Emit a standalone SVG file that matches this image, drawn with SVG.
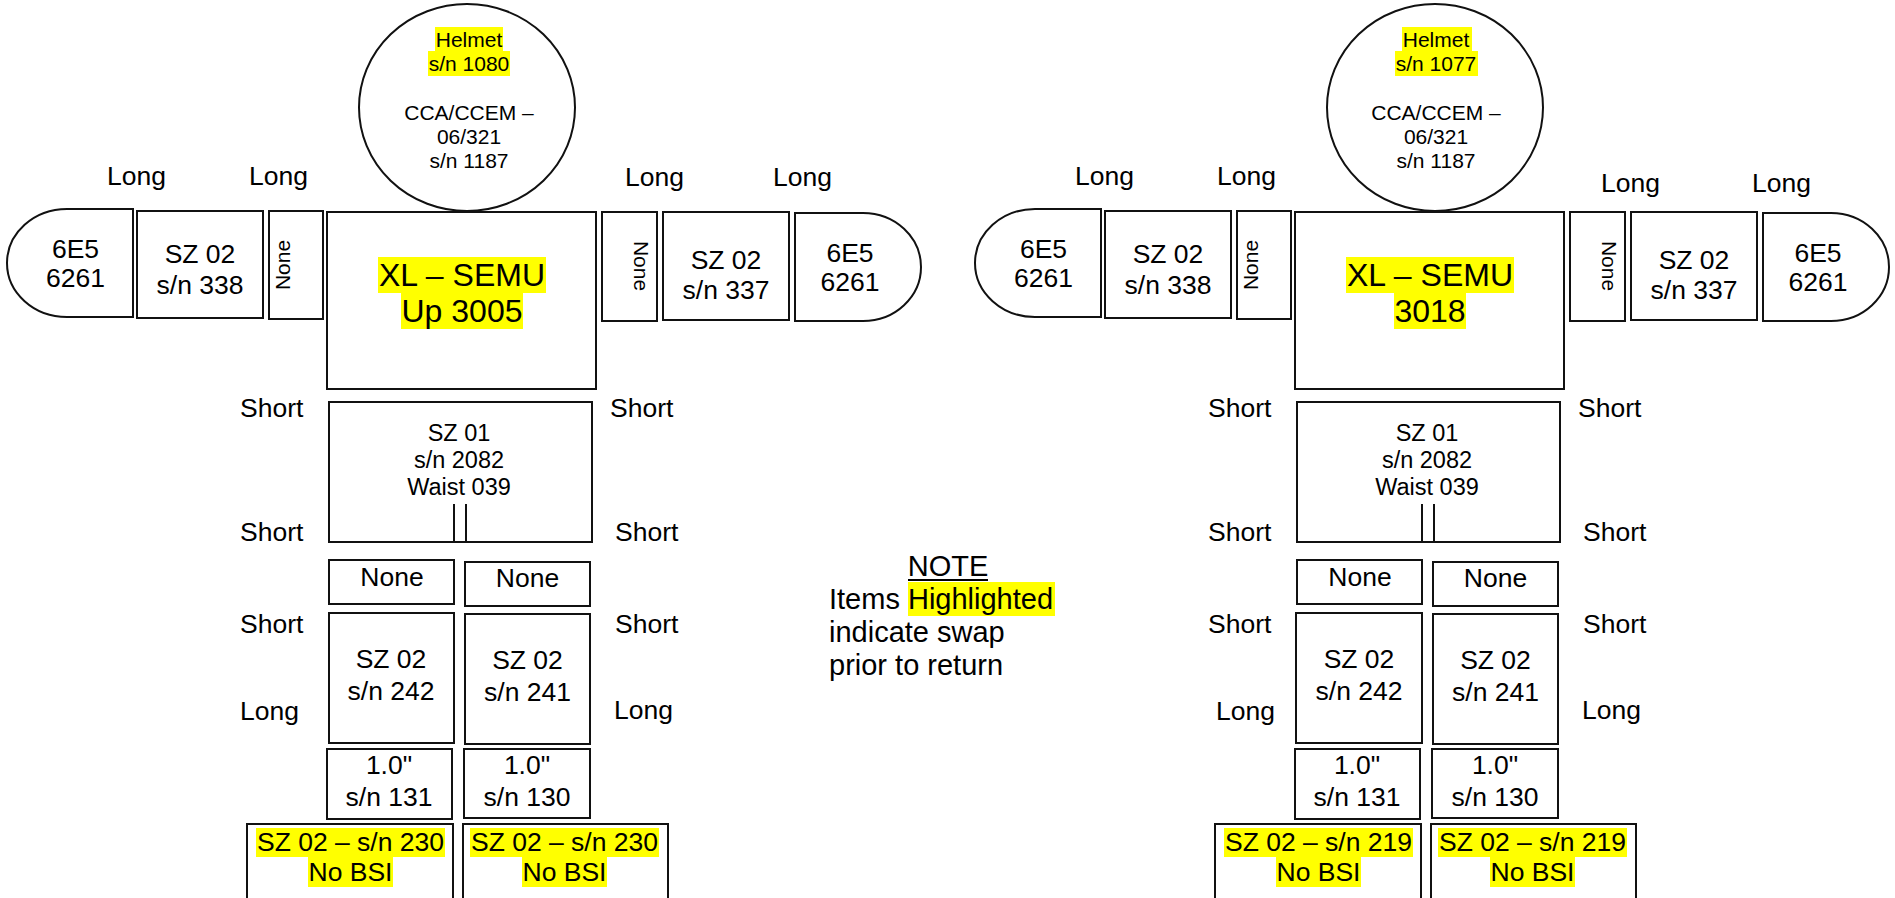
<svg xmlns="http://www.w3.org/2000/svg" width="1895" height="898" viewBox="0 0 1895 898">
<style>
text{font-family:"Liberation Sans",Arial,sans-serif;fill:#000}
.s{fill:#fff;stroke:#111;stroke-width:2}
.hl{fill:#ffff00}
.t21{font-size:21px;text-anchor:middle}
.t23{font-size:23.5px;text-anchor:middle}
.t26{font-size:26.5px;text-anchor:middle}
.t32{font-size:32px;text-anchor:middle}
.lb{font-size:26.5px}
.nt{font-size:29px}
</style>
<rect width="1895" height="898" fill="#fff"/>
<g id="connectors"/>

<!-- LEFT FIGURE -->
<g id="figure-left">
<g id="L-helmet">
<ellipse class="s" cx="467" cy="107.5" rx="108" ry="103.5"/>
<rect class="hl" x="435" y="27" width="68" height="24"/>
<rect class="hl" x="428" y="51" width="82" height="25"/>
<text class="t21" x="469" y="47">Helmet</text>
<text class="t21" x="469" y="71">s/n 1080</text>
<text class="t21" x="469" y="120">CCA/CCEM –</text>
<text class="t21" x="469" y="144">06/321</text>
<text class="t21" x="469" y="168">s/n 1187</text>
</g>
<g id="L-glove-left">
<path class="s" d="M133,209 H67 A60,54 0 0 0 67,317 H133 Z"/>
<text class="t26" x="75.5" y="258">6E5</text>
<text class="t26" x="75.5" y="287">6261</text>
</g>
<g id="L-arm-left">
<rect class="s" x="137" y="211" width="126" height="107"/>
<text class="t26" x="200" y="263">SZ 02</text>
<text class="t26" x="200" y="294">s/n 338</text>
</g>
<g id="L-spacer-left">
<rect class="s" x="269" y="211" width="54" height="108"/>
<text class="t21" transform="translate(290,265) rotate(-90)">None</text>
</g>
<g id="L-hut">
<rect class="s" x="327" y="212" width="269" height="177"/>
<rect class="hl" x="378" y="257" width="168" height="36"/>
<rect class="hl" x="401" y="293" width="122" height="36"/>
<text class="t32" x="462" y="286">XL – SEMU</text>
<text class="t32" x="462" y="322">Up 3005</text>
</g>
<g id="L-spacer-right">
<rect class="s" x="602" y="212" width="55" height="109"/>
<text class="t21" transform="translate(634,266) rotate(90)">None</text>
</g>
<g id="L-arm-right">
<rect class="s" x="663" y="212" width="126" height="108"/>
<text class="t26" x="726" y="269">SZ 02</text>
<text class="t26" x="726" y="299">s/n 337</text>
</g>
<g id="L-glove-right">
<path class="s" d="M795,213 H863 A58,54 0 0 1 863,321 H795 Z"/>
<text class="t26" x="850" y="262">6E5</text>
<text class="t26" x="850" y="291">6261</text>
</g>
<g id="L-lta">
<rect class="s" x="329" y="402" width="263" height="140"/>
<line class="s" x1="454" y1="504" x2="454" y2="542"/>
<line class="s" x1="466" y1="504" x2="466" y2="542"/>
<text class="t23" x="459" y="441">SZ 01</text>
<text class="t23" x="459" y="468">s/n 2082</text>
<text class="t23" x="459" y="495">Waist 039</text>
</g>
<g id="L-none-left">
<rect class="s" x="329" y="560" width="125" height="44"/>
<text class="t26" x="392" y="586">None</text>
</g>
<g id="L-none-right">
<rect class="s" x="465" y="562" width="125" height="44"/>
<text class="t26" x="527.5" y="587">None</text>
</g>
<g id="L-leg-left">
<rect class="s" x="329" y="613" width="125" height="130"/>
<text class="t26" x="391" y="668">SZ 02</text>
<text class="t26" x="391" y="700">s/n 242</text>
</g>
<g id="L-leg-right">
<rect class="s" x="465" y="614" width="125" height="130"/>
<text class="t26" x="527.5" y="669">SZ 02</text>
<text class="t26" x="527.5" y="701">s/n 241</text>
</g>
<g id="L-ring-left">
<rect class="s" x="327" y="749" width="125" height="70"/>
<text class="t26" x="389" y="774">1.0"</text>
<text class="t26" x="389" y="806">s/n 131</text>
</g>
<g id="L-ring-right">
<rect class="s" x="464" y="749" width="126" height="69"/>
<text class="t26" x="527" y="774">1.0"</text>
<text class="t26" x="527" y="806">s/n 130</text>
</g>
<g id="L-boot-left">
<rect class="s" x="247" y="824" width="206" height="90"/>
<rect class="hl" x="256" y="828" width="189" height="29"/>
<rect class="hl" x="308" y="857" width="85" height="30"/>
<text class="t26" x="350.5" y="851">SZ 02 – s/n 230</text>
<text class="t26" x="350.5" y="881">No BSI</text>
</g>
<g id="L-boot-right">
<rect class="s" x="463" y="824" width="205" height="90"/>
<rect class="hl" x="470" y="828" width="189" height="29"/>
<rect class="hl" x="522" y="857" width="85" height="30"/>
<text class="t26" x="564.5" y="851">SZ 02 – s/n 230</text>
<text class="t26" x="564.5" y="881">No BSI</text>
</g>
<g id="L-labels">
<text class="lb" x="107" y="185">Long</text>
<text class="lb" x="249" y="185">Long</text>
<text class="lb" x="625" y="186">Long</text>
<text class="lb" x="773" y="186">Long</text>
<text class="lb" x="240" y="417">Short</text>
<text class="lb" x="240" y="541">Short</text>
<text class="lb" x="240" y="633">Short</text>
<text class="lb" x="240" y="720">Long</text>
<text class="lb" x="610" y="417">Short</text>
<text class="lb" x="615" y="541">Short</text>
<text class="lb" x="615" y="633">Short</text>
<text class="lb" x="614" y="719">Long</text>
</g>
</g>

<!-- NOTE -->
<g id="note">
<rect class="hl" x="908" y="582" width="147" height="34"/>
<text class="nt" x="948" y="576" text-anchor="middle">NOTE</text>
<line x1="908" y1="580" x2="988" y2="580" stroke="#000" stroke-width="2"/>
<text class="nt" x="829" y="609">Items Highlighted</text>
<text class="nt" x="829" y="642">indicate swap</text>
<text class="nt" x="829" y="675">prior to return</text>
</g>

<!-- RIGHT FIGURE -->
<g id="figure-right" transform="translate(968,0)">
<g id="R-helmet">
<ellipse class="s" cx="467" cy="107.5" rx="108" ry="103.5"/>
<rect class="hl" x="434" y="27" width="70" height="24"/>
<rect class="hl" x="427" y="51" width="83" height="25"/>
<text class="t21" x="468" y="47">Helmet</text>
<text class="t21" x="468" y="71">s/n 1077</text>
<text class="t21" x="468" y="120">CCA/CCEM –</text>
<text class="t21" x="468" y="144">06/321</text>
<text class="t21" x="468" y="168">s/n 1187</text>
</g>
<g id="R-glove-left">
<path class="s" d="M133,209 H67 A60,54 0 0 0 67,317 H133 Z"/>
<text class="t26" x="75.5" y="258">6E5</text>
<text class="t26" x="75.5" y="287">6261</text>
</g>
<g id="R-arm-left">
<rect class="s" x="137" y="211" width="126" height="107"/>
<text class="t26" x="200" y="263">SZ 02</text>
<text class="t26" x="200" y="294">s/n 338</text>
</g>
<g id="R-spacer-left">
<rect class="s" x="269" y="211" width="54" height="108"/>
<text class="t21" transform="translate(290,265) rotate(-90)">None</text>
</g>
<g id="R-hut">
<rect class="s" x="327" y="212" width="269" height="177"/>
<rect class="hl" x="378" y="257" width="168" height="36"/>
<rect class="hl" x="426" y="293" width="72" height="36"/>
<text class="t32" x="462" y="286">XL – SEMU</text>
<text class="t32" x="462" y="322">3018</text>
</g>
<g id="R-spacer-right">
<rect class="s" x="602" y="212" width="55" height="109"/>
<text class="t21" transform="translate(634,266) rotate(90)">None</text>
</g>
<g id="R-arm-right">
<rect class="s" x="663" y="212" width="126" height="108"/>
<text class="t26" x="726" y="269">SZ 02</text>
<text class="t26" x="726" y="299">s/n 337</text>
</g>
<g id="R-glove-right">
<path class="s" d="M795,213 H863 A58,54 0 0 1 863,321 H795 Z"/>
<text class="t26" x="850" y="262">6E5</text>
<text class="t26" x="850" y="291">6261</text>
</g>
<g id="R-lta">
<rect class="s" x="329" y="402" width="263" height="140"/>
<line class="s" x1="454" y1="504" x2="454" y2="542"/>
<line class="s" x1="466" y1="504" x2="466" y2="542"/>
<text class="t23" x="459" y="441">SZ 01</text>
<text class="t23" x="459" y="468">s/n 2082</text>
<text class="t23" x="459" y="495">Waist 039</text>
</g>
<g id="R-none-left">
<rect class="s" x="329" y="560" width="125" height="44"/>
<text class="t26" x="392" y="586">None</text>
</g>
<g id="R-none-right">
<rect class="s" x="465" y="562" width="125" height="44"/>
<text class="t26" x="527.5" y="587">None</text>
</g>
<g id="R-leg-left">
<rect class="s" x="328" y="613" width="126" height="130"/>
<text class="t26" x="391" y="668">SZ 02</text>
<text class="t26" x="391" y="700">s/n 242</text>
</g>
<g id="R-leg-right">
<rect class="s" x="465" y="614" width="125" height="130"/>
<text class="t26" x="527.5" y="669">SZ 02</text>
<text class="t26" x="527.5" y="701">s/n 241</text>
</g>
<g id="R-ring-left">
<rect class="s" x="327" y="749" width="125" height="70"/>
<text class="t26" x="389" y="774">1.0"</text>
<text class="t26" x="389" y="806">s/n 131</text>
</g>
<g id="R-ring-right">
<rect class="s" x="464" y="749" width="126" height="69"/>
<text class="t26" x="527" y="774">1.0"</text>
<text class="t26" x="527" y="806">s/n 130</text>
</g>
<g id="R-boot-left">
<rect class="s" x="247" y="824" width="206" height="90"/>
<rect class="hl" x="256" y="828" width="189" height="29"/>
<rect class="hl" x="308" y="857" width="85" height="30"/>
<text class="t26" x="350.5" y="851">SZ 02 – s/n 219</text>
<text class="t26" x="350.5" y="881">No BSI</text>
</g>
<g id="R-boot-right">
<rect class="s" x="463" y="824" width="205" height="90"/>
<rect class="hl" x="470" y="828" width="189" height="29"/>
<rect class="hl" x="522" y="857" width="85" height="30"/>
<text class="t26" x="564.5" y="851">SZ 02 – s/n 219</text>
<text class="t26" x="564.5" y="881">No BSI</text>
</g>
<g id="R-labels">
<text class="lb" x="107" y="185">Long</text>
<text class="lb" x="249" y="185">Long</text>
<text class="lb" x="633" y="192">Long</text>
<text class="lb" x="784" y="192">Long</text>
<text class="lb" x="240" y="417">Short</text>
<text class="lb" x="240" y="541">Short</text>
<text class="lb" x="240" y="633">Short</text>
<text class="lb" x="248" y="720">Long</text>
<text class="lb" x="610" y="417">Short</text>
<text class="lb" x="615" y="541">Short</text>
<text class="lb" x="615" y="633">Short</text>
<text class="lb" x="614" y="719">Long</text>
</g>
</g>
</svg>
